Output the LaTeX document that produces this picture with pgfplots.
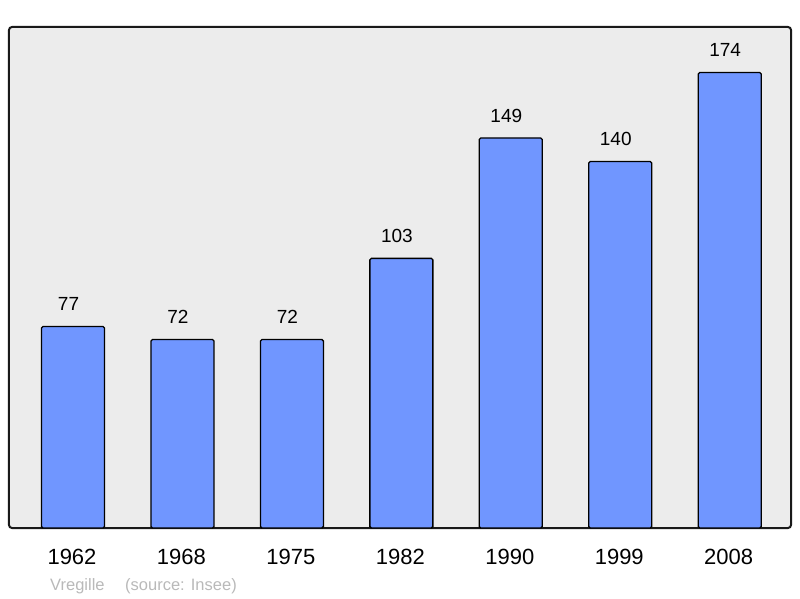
\documentclass[border=0pt]{standalone}
\usepackage{pgfplots}
\pgfplotsset{compat=1.18}
\usepackage{fontspec}
\setmainfont{Liberation Sans}
\definecolor{barblue}{RGB}{112,150,255}
\definecolor{bg}{RGB}{236,236,236}
\definecolor{frame}{RGB}{25,25,25}
\definecolor{foot}{RGB}{185,185,185}
\begin{document}
\begin{tikzpicture}
\path[use as bounding box] (0,0) rectangle (800pt,598pt);
\begin{axis}[
  at={(9pt,70pt)}, anchor=south west,
  scale only axis, width=782pt, height=501pt,
  xmin=-0.5848, xmax=6.56, ymin=0, ymax=191.4,
  axis background/.style={fill=bg, draw=frame, line width=2pt, rounded corners=3pt},
  axis line style={draw=none},
  ytick=\empty, xtick=data,
  xticklabels={1962,1968,1975,1982,1990,1999,2008},
  major tick length=0pt,
  xticklabel style={font=\fontsize{22}{26}\selectfont, inner sep=0pt, anchor=north, yshift=-21pt, xshift=-1pt},
  ybar, bar width=63pt,
  /pgf/number format/assume math mode=true,
  nodes near coords,
  every node near coord/.append style={font=\fontsize{19}{22}\selectfont, inner sep=0pt, anchor=south, yshift=15pt, xshift=-4.5pt, text=black},
  clip=false
]
\addplot[fill=barblue, draw=black, line width=1.3pt, rounded corners=1.5pt]
  coordinates {(0,77) (1,72) (2,72) (3,103) (4,149) (5,140) (6,174)};
\end{axis}
\node[anchor=base west, inner sep=0pt, font=\fontsize{16.5}{20}\selectfont, text=foot] at (50pt,8pt) {Vregille};
\node[anchor=base west, inner sep=0pt, font=\fontsize{16.5}{20}\selectfont, text=foot] at (125pt,8pt) {(source: Insee)};
\end{tikzpicture}
\end{document}
